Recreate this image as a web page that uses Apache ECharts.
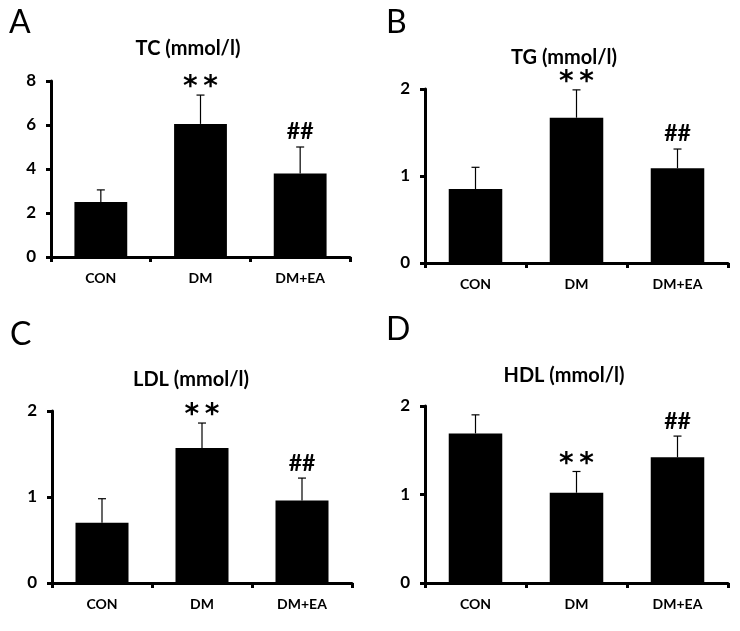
<!DOCTYPE html>
<html><head><meta charset="utf-8">
<script src="https://cdn.jsdelivr.net/npm/echarts@6/dist/echarts.min.js"></script>
<style>html,body{margin:0;padding:0;background:#fff}#c{width:740px;height:631px}</style>
</head><body><div id="c"></div>
<script>
const categories = ["CON", "DM", "DM+EA"];
const panelLetters = ["A", "B", "C", "D"];
const panelTitles = ["TC (mmol/l)", "TG (mmol/l)", "LDL (mmol/l)", "HDL (mmol/l)"];
const tcMean = [2.5, 6.05, 3.8];
const tcSD = [0.55, 1.31, 1.2];
const tgMean = [0.85, 1.67, 1.09];
const tgSD = [0.25, 0.32, 0.22];
const ldlMean = [0.70, 1.57, 0.96];
const ldlSD = [0.28, 0.29, 0.26];
const hdlMean = [1.69, 1.02, 1.42];
const hdlSD = [0.21, 0.24, 0.24];
const marks = ["", "**", "##"];
const yMax = [8, 2, 2, 2];
const yInterval = [2, 1, 1, 1];

const means = [tcMean, tgMean, ldlMean, hdlMean];
const sds = [tcSD, tgSD, ldlSD, hdlSD];

const FONT = "Lato";
const grids = [
  {left: 51, top: 81, width: 299, height: 176},
  {left: 425, top: 89, width: 303, height: 174},
  {left: 52, top: 411, width: 300, height: 172},
  {left: 425, top: 406, width: 303, height: 177}
];
const titlePos = [[188, 49], [564, 58], [191, 380], [564, 376]];
const letterPos = [[9, 23], [386, 23], [10, 335], [386, 330]];

const chart = echarts.init(document.getElementById('c'), null, {renderer: 'canvas'});
const xAxis = [], yAxis = [], series = [], graphic = [];
grids.forEach((g, i) => {
  xAxis.push({
    type: 'category', gridIndex: i, data: categories,
    axisLine: {lineStyle: {color: '#000', width: 3}},
    axisTick: {show: true, length: 5, lineStyle: {color: '#000', width: 3}},
    axisLabel: {color: '#000', fontFamily: FONT, fontWeight: 'bold', fontSize: 14, margin: 14}
  });
  yAxis.push({
    type: 'value', gridIndex: i, min: 0, max: yMax[i], interval: yInterval[i],
    splitLine: {show: false},
    axisLine: {show: true, lineStyle: {color: '#000', width: 3}},
    axisTick: {show: true, length: 5, lineStyle: {color: '#000', width: 3}},
    axisLabel: {color: '#000', fontFamily: FONT, fontWeight: 'bold', fontSize: 17, margin: 15}
  });
  series.push({
    type: 'bar', xAxisIndex: i, yAxisIndex: i, data: means[i], barWidth: '53%',
    itemStyle: {color: '#000'}, silent: true
  });
  const errData = means[i].map((m, k) => [k, m, m + sds[i][k], marks[k]]);
  series.push({
    type: 'custom', xAxisIndex: i, yAxisIndex: i, data: errData, silent: true, z: 5,
    renderItem: function (params, api) {
      const x = api.value(0);
      const p0 = api.coord([x, api.value(1)]);
      const p1 = api.coord([x, api.value(2)]);
      const txt = api.value(3);
      const children = [
        {type: 'line', shape: {x1: p0[0], y1: p0[1], x2: p1[0], y2: p1[1]}, style: {stroke: '#000', lineWidth: 1.2}},
        {type: 'line', shape: {x1: p1[0] - 4, y1: p1[1], x2: p1[0] + 4, y2: p1[1]}, style: {stroke: '#000', lineWidth: 1.2}}
      ];
      if (txt) {
        const star = txt === '**';
        children.push({type: 'text', x: p1[0], y: p1[1] - (star ? 7 : 15),
          style: {text: star ? '*\u2009*' : txt, textAlign: 'center', textVerticalAlign: 'middle',
            font: star ? 'bold 28px "DejaVu Sans"' : 'bold 23px ' + FONT, fill: '#000'}});
      }
      return {type: 'group', children: children};
    }
  });
  graphic.push({type: 'text', x: titlePos[i][0], y: titlePos[i][1],
    style: {text: panelTitles[i], textAlign: 'center', textVerticalAlign: 'middle',
      font: 'bold 20px ' + FONT, fill: '#000'}});
  graphic.push({type: 'text', x: letterPos[i][0], y: letterPos[i][1],
    style: {text: panelLetters[i], textAlign: 'left', textVerticalAlign: 'middle',
      font: '32px ' + FONT, fill: '#000'}});
});
chart.setOption({
  animation: false,
  grid: grids,
  xAxis: xAxis, yAxis: yAxis, series: series, graphic: graphic
});
</script></body></html>
